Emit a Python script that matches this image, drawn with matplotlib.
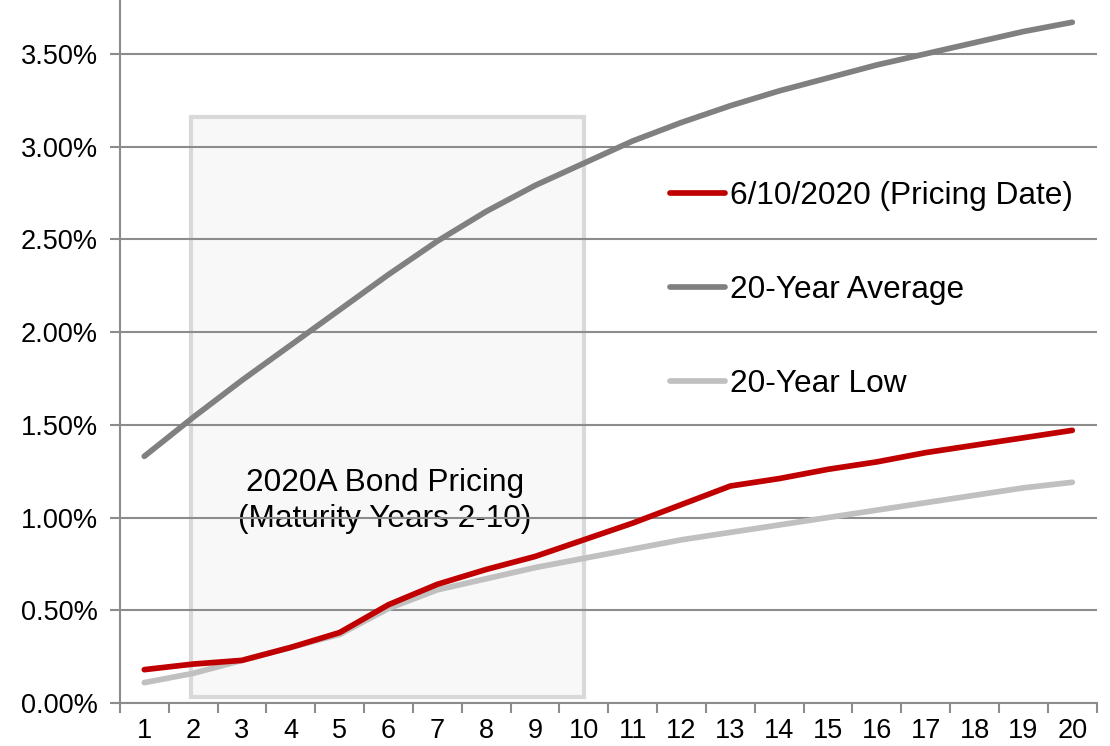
import matplotlib.pyplot as plt
from matplotlib.patches import Rectangle
from matplotlib.ticker import FuncFormatter

plt.rcParams['font.family'] = ['Liberation Sans', 'DejaVu Sans']

years = list(range(1, 21))
pricing = [0.18, 0.21, 0.23, 0.30, 0.38, 0.53, 0.64, 0.72, 0.79, 0.88,
           0.97, 1.07, 1.17, 1.21, 1.26, 1.30, 1.35, 1.39, 1.43, 1.47]
avg20 = [1.33, 1.54, 1.74, 1.93, 2.12, 2.31, 2.49, 2.65, 2.79, 2.91,
         3.03, 3.13, 3.22, 3.30, 3.37, 3.44, 3.50, 3.56, 3.62, 3.67]
low20 = [0.11, 0.16, 0.23, 0.30, 0.37, 0.51, 0.61, 0.67, 0.73, 0.78,
         0.83, 0.88, 0.92, 0.96, 1.00, 1.04, 1.08, 1.12, 1.16, 1.19]
labels = ['6/10/2020 (Pricing Date)', '20-Year Average', '20-Year Low']

fig = plt.figure(figsize=(11.1, 7.46), dpi=100)
ax = fig.add_axes([0.108, 0.0576, 0.880, 0.9424])

grid_c = '#8c8c8c'
ax.set_axisbelow('line')
ax.yaxis.grid(True, color=grid_c, linewidth=1.5)

# shaded pricing window
box = Rectangle((1.95, 0.03), 8.05, 3.13, facecolor='#f8f8f8',
                edgecolor='#d9d9d9', linewidth=3, zorder=1)
ax.add_patch(box)
ax.text(5.92, 1.09, '2020A Bond Pricing\n(Maturity Years 2-10)', ha='center',
        va='center', fontsize=22.8, linespacing=1.25, zorder=1.2)

ax.plot(years, pricing, color='#c00000', lw=4.1, solid_capstyle='round', label=labels[0], zorder=3)
ax.plot(years, avg20, color='#808080', lw=4.1, solid_capstyle='round', label=labels[1], zorder=2)
ax.plot(years, low20, color='#c0c0c0', lw=4.1, solid_capstyle='round', label=labels[2], zorder=2.5)

ax.set_xlim(0.5, 20.5)
ax.set_ylim(0, 3.79)
ax.set_yticks([0, 0.5, 1, 1.5, 2, 2.5, 3, 3.5])
ax.yaxis.set_major_formatter(FuncFormatter(lambda v, p: '%.2f%%' % v))
ax.set_xticks(years)
ax.set_xticks([i + 0.5 for i in range(0, 21)], minor=True)
ax.tick_params(axis='x', which='major', length=0, pad=11, labelsize=19.5)
ax.tick_params(axis='x', which='minor', length=7, width=1.5, color=grid_c)
ax.tick_params(axis='y', length=7, width=1.5, color=grid_c, labelsize=19.5, pad=9)

for s in ['top', 'right']:
    ax.spines[s].set_visible(False)
for s in ['left', 'bottom']:
    ax.spines[s].set_color(grid_c)
    ax.spines[s].set_linewidth(1.5)

leg = ax.legend(loc='upper left', bbox_to_anchor=(0.563, 0.743), frameon=False,
                fontsize=22.8, handlelength=1.75, handletextpad=0.15,
                labelspacing=2.03, borderpad=0, borderaxespad=0)

fig.savefig('out.png', dpi=100)
